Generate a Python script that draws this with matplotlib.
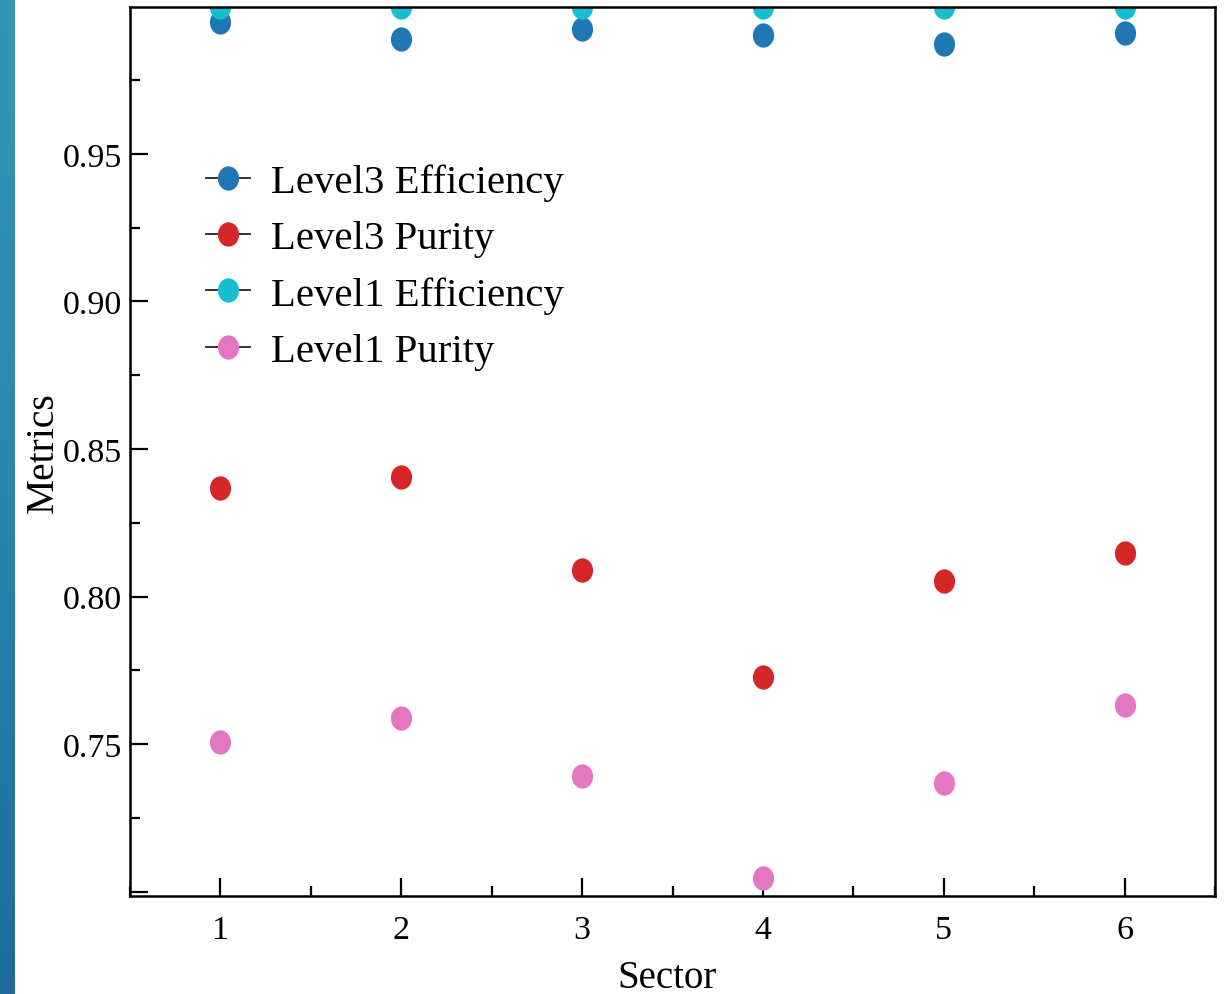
import numpy as np
import matplotlib
matplotlib.use("Agg")
import matplotlib.pyplot as plt
from matplotlib.path import Path
from matplotlib.lines import Line2D
from matplotlib.ticker import MultipleLocator, FuncFormatter
from matplotlib.colors import LinearSegmentedColormap

sectors = [1, 2, 3, 4, 5, 6]
level3_eff = [0.9947, 0.9890, 0.9924, 0.9903, 0.9873, 0.9910]
level3_pur = [0.8368, 0.8405, 0.8090, 0.7727, 0.8053, 0.8147]
level1_eff = [0.9998, 0.9999, 0.9999, 0.9999, 0.9999, 0.9999]
level1_pur = [0.7507, 0.7588, 0.7392, 0.7046, 0.7368, 0.7632]

series_names = ["Level3 Efficiency", "Level3 Purity", "Level1 Efficiency", "Level1 Purity"]
series_values = [level3_eff, level3_pur, level1_eff, level1_pur]
series_colors = ["#1f77b4", "#d62728", "#17becf", "#e377c2"]

plt.rcParams['font.family'] = ['Liberation Serif', 'DejaVu Serif']

# slightly tall oval marker (reference is stretched vertically)
t = np.linspace(0, 2 * np.pi, 64)
oval = Path(np.column_stack([0.87 * np.cos(t), np.sin(t)]), closed=True)

fig = plt.figure(figsize=(12.3, 9.95), dpi=100)

# decorative gradient strip at the left edge
strip = fig.add_axes([0, 0, 14 / 1230, 1])
grad = np.linspace(0, 1, 256).reshape(-1, 1)
cm = LinearSegmentedColormap.from_list("strip", ["#3497b5", "#2b86ab", "#1f6b9e"])
strip.imshow(grad, aspect='auto', cmap=cm, extent=[0, 1, 0, 1], origin='upper')
strip.axis('off')

ax = fig.add_axes([130 / 1230, 1 - 897 / 995, (1215 - 130) / 1230, (897 - 8) / 995])

MS = 17.5
handles = []
for name, vals, col in zip(series_names, series_values, series_colors):
    ax.plot(sectors, vals, linestyle='none', marker=oval, markersize=MS,
            markerfacecolor=col, markeredgecolor='none', clip_on=True)
    handles.append(Line2D([], [], color='#222222', linewidth=1.3, marker=oval,
                          markersize=MS, markerfacecolor=col, markeredgecolor='none',
                          label=name))

ax.set_xlim(0.5, 6.5)
ax.set_ylim(0.6985, 0.9998)
ax.xaxis.set_major_locator(MultipleLocator(1))
ax.xaxis.set_minor_locator(MultipleLocator(0.5))
ax.yaxis.set_major_locator(MultipleLocator(0.05))
ax.yaxis.set_minor_locator(MultipleLocator(0.025))
ax.yaxis.set_major_formatter(FuncFormatter(lambda v, p: "" if v < 0.72 else f"{v:.2f}"))

ax.tick_params(which='both', direction='in', top=False, right=False, width=1.6)
ax.tick_params(which='major', length=13, labelsize=24.5)
ax.tick_params(which='minor', length=7)
ax.tick_params(axis='y', pad=6)
ax.tick_params(axis='x', pad=13)
for s in ax.spines.values():
    s.set_linewidth(1.8)

ax.set_xlabel("Sector", fontsize=28)
ax.xaxis.set_label_coords(0.495, -0.071)
ax.set_ylabel("Metrics", fontsize=28.5, labelpad=0)

ax.legend(handles=handles, loc='upper left', bbox_to_anchor=(0.036, 0.865),
          frameon=False, fontsize=29.3, handlelength=1.1, handletextpad=0.5,
          labelspacing=0.46)

fig.savefig("out.png", dpi=100)
